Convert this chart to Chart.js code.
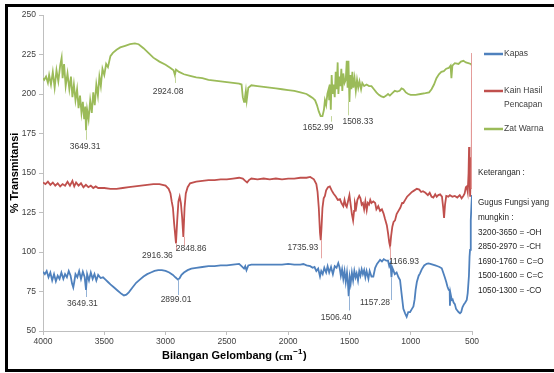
<!DOCTYPE html>
<html>
<head>
<meta charset="utf-8">
<script src="https://cdn.jsdelivr.net/npm/chart.js@4.4.0/dist/chart.umd.min.js"></script>
<style>
  html, body { margin: 0; padding: 0; background: #fff; }
  #wrap { width: 554px; height: 373px; }
</style>
</head>
<body>
<div id="wrap"><canvas id="chartFtir" width="554" height="373"></canvas></div>
<script>
// ticks
var xTicks = [4000, 3500, 3000, 2500, 2000, 1500, 1000, 500];
var yTicks = [50, 75, 100, 125, 150, 175, 200, 225, 250];

// Kapas
var kapasWn = [4000, 3985, 3970, 3955, 3940, 3925, 3910, 3895, 3880, 3865, 3850, 3834, 3820, 3805, 3790, 3775, 3763, 3753, 3745, 3735, 3720, 3705, 3690, 3675, 3660, 3649, 3640, 3625, 3610, 3595, 3580, 3565, 3550, 3530, 3510, 3490, 3470, 3450, 3420, 3390, 3360, 3340, 3320, 3300, 3270, 3240, 3210, 3180, 3150, 3120, 3090, 3060, 3030, 3000, 2970, 2940, 2920, 2899, 2885, 2870, 2850, 2820, 2790, 2750, 2700, 2650, 2600, 2550, 2500, 2450, 2400, 2380, 2360, 2350, 2340, 2325, 2300, 2250, 2200, 2150, 2100, 2050, 2000, 1950, 1900, 1876, 1850, 1820, 1800, 1785, 1770, 1755, 1740, 1730, 1718, 1705, 1690, 1678, 1665, 1650, 1635, 1620, 1605, 1591, 1580, 1570, 1560, 1550, 1540, 1530, 1520, 1512, 1506, 1498, 1490, 1480, 1470, 1460, 1450, 1441, 1430, 1420, 1410, 1400, 1390, 1380, 1370, 1360, 1345, 1335, 1320, 1305, 1290, 1275, 1260, 1250, 1235, 1220, 1200, 1185, 1175, 1165, 1157, 1150, 1142, 1130, 1115, 1100, 1087, 1075, 1060, 1045, 1033, 1020, 1005, 990, 978, 968, 960, 950, 935, 924, 910, 890, 870, 856, 840, 820, 800, 780, 765, 747, 735, 722, 710, 700, 690, 682, 680, 676, 665, 658, 650, 640, 630, 620, 610, 598, 588, 578, 565, 555, 543, 535, 525, 520, 516, 510, 505, 500];
var kapasT = [87.5, 86, 88, 84, 87, 82, 86, 81.5, 85, 83, 87, 83, 86, 84, 88, 85, 80, 77.5, 81, 86, 84, 88, 83, 87.5, 84, 76, 86, 82, 87, 83, 86, 82, 85.5, 83.5, 84, 82.5, 81, 79.5, 77.5, 75.5, 73.5, 72.5, 73, 74.5, 77.5, 80.5, 82.5, 84.5, 86, 87, 88, 88.5, 88.5, 88, 87, 85.5, 84, 82.5, 83.5, 85.5, 87, 88.5, 89.5, 90, 90.5, 91, 91, 91.5, 91.5, 92, 92.5, 91, 89.5, 91, 88.5, 91.5, 92, 92, 92, 92, 92, 92, 92.5, 92, 92, 92.4, 91.5, 91, 90, 90.5, 88, 89.5, 84.5, 88, 86, 90, 87, 91, 87, 90.5, 86, 91, 90, 93, 90, 85, 89, 83, 88, 81, 87, 80, 72, 84, 80, 87, 82, 88, 84, 86.5, 82, 88, 85, 89, 86, 88.5, 84, 88, 83, 88, 84.5, 84.5, 90, 92.5, 94, 95, 94, 95.5, 94.5, 94.5, 91, 93, 84, 90, 88.5, 86, 87, 84, 82.3, 74, 64, 61, 59, 62, 62, 64, 65.5, 70, 76, 81, 85, 86.5, 89, 91.5, 92.5, 92.8, 92.5, 92, 91.5, 91, 90.5, 89.7, 87, 84, 81, 78, 76, 76, 66, 74, 69.6, 70, 68, 67, 64, 63, 62, 61.2, 62, 65, 67, 68, 69.6, 74, 85, 97, 101.3, 120, 129, 136];

// Kain Hasil Pencapan
var kainWn = [4000, 3980, 3960, 3940, 3920, 3900, 3880, 3860, 3840, 3820, 3800, 3780, 3760, 3745, 3730, 3710, 3690, 3670, 3650, 3630, 3610, 3590, 3570, 3550, 3500, 3450, 3400, 3350, 3300, 3250, 3200, 3150, 3100, 3050, 3000, 2975, 2960, 2950, 2940, 2930, 2915, 2905, 2895, 2885, 2875, 2865, 2855, 2845, 2835, 2820, 2800, 2750, 2700, 2650, 2600, 2550, 2500, 2450, 2400, 2370, 2350, 2335, 2320, 2300, 2250, 2200, 2150, 2100, 2050, 2000, 1950, 1900, 1850, 1820, 1790, 1770, 1760, 1750, 1740, 1734, 1728, 1720, 1710, 1700, 1690, 1675, 1660, 1645, 1630, 1610, 1595, 1577, 1565, 1550, 1540, 1530, 1522, 1512, 1500, 1490, 1480, 1470, 1462, 1455, 1445, 1435, 1420, 1410, 1400, 1390, 1380, 1370, 1359, 1350, 1340, 1330, 1320, 1305, 1290, 1280, 1265, 1250, 1235, 1222, 1210, 1195, 1185, 1175, 1168, 1160, 1150, 1140, 1128, 1115, 1100, 1085, 1070, 1060, 1045, 1030, 1010, 990, 970, 950, 930, 915, 900, 880, 860, 845, 830, 815, 800, 788, 775, 760, 745, 735, 728, 720, 710, 693, 680, 660, 640, 620, 600, 585, 571, 560, 550, 543, 535, 528, 524, 520, 515, 508, 503, 500];
var kainT = [144, 143, 144.5, 142.5, 144, 142, 143.5, 141.5, 143, 142, 144.5, 142, 145, 141.5, 144, 142, 143.5, 141, 142.5, 141, 142, 140.5, 141.5, 140.5, 140.5, 140, 140, 140.5, 141, 141.5, 142, 142.5, 143, 143, 142, 140, 137, 132, 128, 118, 105.5, 120, 132, 135, 131, 122, 109.5, 128, 137, 141, 143.5, 144.5, 145, 145.5, 145.5, 146, 146, 146.5, 147, 146.5, 145, 144, 145.5, 146.5, 146, 146.5, 146, 146.5, 146, 146.5, 146.5, 147, 147, 147.5, 146, 143, 138, 128, 112, 107.5, 115, 128, 134, 135.5, 139, 141, 141.5, 139, 137, 135, 133, 133.5, 131, 129, 133, 129.5, 128.5, 132, 136, 130, 124, 120, 126, 131, 128, 133, 135.5, 134, 130, 131, 127, 132, 126.5, 131, 130, 133, 131, 132, 131, 127, 129, 126, 127, 124.5, 121, 117, 112, 106, 103.5, 110, 116, 119, 120, 124, 126, 128, 131, 131, 133, 135, 136.5, 138, 139, 140, 139.5, 138, 138.5, 137.5, 136, 137.5, 135, 134.5, 136.5, 135, 136, 136.5, 135, 128, 121.5, 130, 135.5, 135, 136, 135, 135.5, 134.5, 136, 134, 135.5, 137, 141, 141.5, 138, 150, 166.5, 145, 135, 160, 140, 226];

// Zat Warna
var zatWn = [4000, 3990, 3975, 3960, 3950, 3935, 3920, 3905, 3890, 3875, 3860, 3848, 3840, 3828, 3815, 3800, 3785, 3772, 3760, 3748, 3735, 3722, 3710, 3698, 3686, 3675, 3664, 3655, 3649, 3640, 3628, 3615, 3602, 3590, 3578, 3565, 3552, 3540, 3528, 3515, 3500, 3485, 3470, 3450, 3430, 3400, 3370, 3330, 3290, 3250, 3220, 3180, 3140, 3100, 3050, 3000, 2960, 2935, 2924, 2915, 2890, 2850, 2800, 2750, 2700, 2650, 2600, 2550, 2500, 2450, 2400, 2380, 2370, 2360, 2352, 2345, 2338, 2325, 2300, 2250, 2200, 2150, 2100, 2050, 2000, 1950, 1900, 1850, 1820, 1800, 1780, 1765, 1750, 1735, 1720, 1708, 1700, 1690, 1680, 1670, 1665, 1658, 1652, 1645, 1638, 1630, 1620, 1612, 1604, 1596, 1590, 1582, 1574, 1566, 1558, 1550, 1540, 1530, 1522, 1515, 1508, 1500, 1492, 1484, 1476, 1468, 1458, 1448, 1438, 1428, 1418, 1405, 1395, 1380, 1360, 1340, 1320, 1300, 1280, 1260, 1240, 1220, 1200, 1185, 1170, 1150, 1130, 1110, 1090, 1075, 1060, 1040, 1020, 1000, 960, 920, 880, 850, 830, 810, 790, 770, 750, 730, 710, 690, 675, 668, 660, 640, 610, 590, 570, 550, 530, 510, 500];
var zatT = [210, 209, 211, 207, 212, 206, 214, 204, 215, 208, 218, 223, 210, 219, 205, 213, 203, 211, 198, 206, 196, 203, 191, 199, 188, 195, 184, 192, 177, 190, 184, 196, 188, 201, 193, 206, 199, 211, 205, 216, 212, 219, 217, 224, 226, 228, 229.5, 230.5, 231.5, 232, 231.5, 229, 226, 223, 220.5, 218.5, 216.5, 215, 212, 215.5, 214, 212.5, 211.5, 210.5, 210, 209, 208.5, 208, 207.5, 207, 206.5, 206, 198, 195, 198, 202, 196, 204, 205.5, 205, 204.5, 204, 203.5, 203, 202.5, 202, 201, 200, 198.5, 197.5, 196, 193, 189, 186, 186, 190, 196, 193, 200, 203, 196, 206, 190, 212, 200, 206, 198, 214, 203, 220, 200, 211, 205, 216, 202, 213, 207, 209, 221, 204, 221, 195, 212, 203, 214, 204, 210, 202, 209, 204, 208, 203, 207, 205, 206, 205, 205, 203, 201, 199.5, 198.5, 198, 199, 200, 199, 200.5, 202, 201.5, 202, 203.5, 203, 201, 200, 199.5, 199.5, 200, 200.5, 201, 203, 206, 210, 212.5, 214, 214.5, 216, 216.5, 218, 210, 218, 219.5, 219, 220.5, 221, 220, 219.5, 219, 218];

// peak labels: series, wavenumber, leader from/to, label centre (wn, %T)
var peakSeries = [2, 2, 2, 2, 1, 1, 1, 1, 0, 0, 0, 0];
var peakWn = [3649, 2924, 1652, 1508, 2916, 2849, 1736, 1167, 3649, 2899, 1506, 1157];
var peakFrom = [177, 212, 186, 195, 105.5, 109.5, 107.5, 103.5, 76, 82.5, 72, 84];
var peakTo = [171, 207, 182.5, 186.5, 101, 104, 96, 95, 71.5, 72.8, 63, 69.6];
var peakText = ['3649.31', '2924.08', '1652.99', '1508.33', '2916.36', '2848.86', '1735.93', '1166.93', '3649.31', '2899.01', '1506.40', '1157.28'];
var peakLabelWn = [3657, 2980, 1756, 1432, 3066, 2792, 1879, 1055, 3678, 2915, 1609, 1291];
var peakLabelT = [166.5, 201.3, 178.8, 182.6, 98, 101.9, 102.5, 93.9, 67, 70, 58.4, 67.7];

var notes = ['Keterangan :', '', 'Gugus Fungsi yang', 'mungkin :', '3200-3650 = -OH', '2850-2970 = -CH', '1690-1760 = C=O', '1500-1600 = C=C', '1050-1300 = -CO'];

function toPoints(wn, t) {
  var pts = [];
  for (var i = 0; i < wn.length; i++) {
    pts.push({ x: wn[i], y: t[i] });
  }
  return pts;
}

var seriesColor = ['#4f81bd', '#c0504d', '#9bbb59'];
var leaderColor = ['#95b3d7', '#e6a5a3', '#c3d69b'];
var sans = '"Liberation Sans", Arial, sans-serif';

var decorPlugin = {
  id: 'decor',
  beforeDraw: function (chart) {
    var ctx = chart.ctx;
    ctx.save();
    ctx.fillStyle = '#fff';
    ctx.fillRect(0, 0, chart.width, chart.height);
    ctx.restore();
  },
  afterDatasetsDraw: function (chart) {
    var ctx = chart.ctx;
    var xs = chart.scales.x;
    var ys = chart.scales.y;
    ctx.save();
    ctx.font = '8.5px ' + sans;
    ctx.textAlign = 'center';
    ctx.textBaseline = 'middle';
    for (var i = 0; i < peakWn.length; i++) {
      var px = Math.round(xs.getPixelForValue(peakWn[i])) + 0.5;
      ctx.strokeStyle = leaderColor[peakSeries[i]];
      ctx.lineWidth = 1;
      ctx.beginPath();
      ctx.moveTo(px, ys.getPixelForValue(peakFrom[i]));
      ctx.lineTo(px, ys.getPixelForValue(peakTo[i]));
      ctx.stroke();
      ctx.fillStyle = '#404040';
      ctx.fillText(peakText[i], xs.getPixelForValue(peakLabelWn[i]), ys.getPixelForValue(peakLabelT[i]));
    }
    ctx.restore();
  },
  afterDraw: function (chart) {
    var ctx = chart.ctx;
    var area = chart.chartArea;
    ctx.save();

    // axis titles
    ctx.fillStyle = '#000';
    ctx.font = 'bold 11px ' + sans;
    ctx.textBaseline = 'middle';
    ctx.save();
    ctx.translate(15, (area.top + area.bottom) / 2);
    ctx.rotate(-Math.PI / 2);
    ctx.textAlign = 'center';
    ctx.fillText('% Transmitansi', 0, 0);
    ctx.restore();

    ctx.textAlign = 'left';
    var tx = 162;
    var ty = 356;
    var part1 = 'Bilangan Gelombang (';
    ctx.fillText(part1, tx, ty);
    tx += ctx.measureText(part1).width;
    ctx.font = 'bold 11px "Liberation Serif", "Times New Roman", serif';
    ctx.fillText('cm', tx, ty + 1);
    tx += ctx.measureText('cm').width;
    ctx.font = 'bold 8px ' + sans;
    ctx.fillText('\u22121', tx + 0.5, ty - 4);
    tx += ctx.measureText('\u22121').width + 1;
    ctx.font = 'bold 11px ' + sans;
    ctx.fillText(')', tx, ty);

    // legend
    var legendY = [54, 91, 129];
    var legendText = [['Kapas'], ['Kain Hasil', 'Pencapan'], ['Zat Warna']];
    ctx.font = '8.5px ' + sans;
    ctx.fillStyle = '#404040';
    for (var i = 0; i < 3; i++) {
      ctx.strokeStyle = seriesColor[i];
      ctx.lineWidth = 2.5;
      ctx.beginPath();
      ctx.moveTo(484, legendY[i]);
      ctx.lineTo(503, legendY[i]);
      ctx.stroke();
      for (var j = 0; j < legendText[i].length; j++) {
        ctx.fillText(legendText[i][j], 504, legendY[i] + j * 14);
      }
    }

    // keterangan
    ctx.font = '8.2px ' + sans;
    ctx.fillStyle = '#262626';
    var noteY = [173, 188, 203, 218, 233, 247, 262, 276, 291];
    for (var k = 0; k < notes.length; k++) {
      ctx.fillText(notes[k], 478, noteY[k]);
    }

    // frame
    ctx.strokeStyle = '#000';
    ctx.lineWidth = 3;
    ctx.strokeRect(6.5, 5.5, 600, 365);
    ctx.restore();
  },
};

function plainTick(value) {
  return String(value);
}

var ctx = document.getElementById('chartFtir');
var chart = new Chart(ctx, {
  type: 'line',
  data: {
    datasets: [
      { label: 'Kapas', data: toPoints(kapasWn, kapasT), borderColor: seriesColor[0] },
      {
        label: 'Kain Hasil Pencapan',
        data: toPoints(kainWn, kainT),
        borderColor: seriesColor[1],
        // the last jump up at 500 shows as a pale thin stroke
        segment: {
          borderColor: function (c) {
            return c.p1DataIndex === kainWn.length - 1 ? '#e39896' : undefined;
          },
        },
      },
      { label: 'Zat Warna', data: toPoints(zatWn, zatT), borderColor: seriesColor[2] },
    ],
  },
  options: {
    responsive: false,
    animation: false,
    parsing: false,
    elements: {
      point: { radius: 0 },
      line: { borderWidth: 1.8, tension: 0, fill: false },
    },
    layout: { padding: { left: 8, top: 15, right: 82, bottom: 0 } },
    plugins: { legend: { display: false }, tooltip: { enabled: false } },
    scales: {
      x: {
        type: 'linear',
        reverse: true,
        min: 500,
        max: 4000,
        afterFit: function (scale) { scale.height = 42; },
        afterBuildTicks: function (scale) {
          scale.ticks = xTicks.map(function (v) { return { value: v }; });
        },
        ticks: { color: '#404040', font: { family: sans, size: 8.5 }, padding: 2, maxRotation: 0, callback: plainTick },
        grid: { drawOnChartArea: false, drawTicks: true, tickLength: 4, color: '#bfbfbf' },
        border: { display: true, color: '#bfbfbf' },
      },
      y: {
        min: 50,
        max: 250,
        afterFit: function (scale) { scale.width = 35; },
        afterBuildTicks: function (scale) {
          scale.ticks = yTicks.map(function (v) { return { value: v }; });
        },
        ticks: { color: '#404040', font: { family: sans, size: 8.5 }, padding: 3, callback: plainTick },
        grid: { drawOnChartArea: false, drawTicks: true, tickLength: 4, color: '#bfbfbf' },
        border: { display: true, color: '#bfbfbf' },
      },
    },
  },
  plugins: [decorPlugin],
});
</script>
</body>
</html>
